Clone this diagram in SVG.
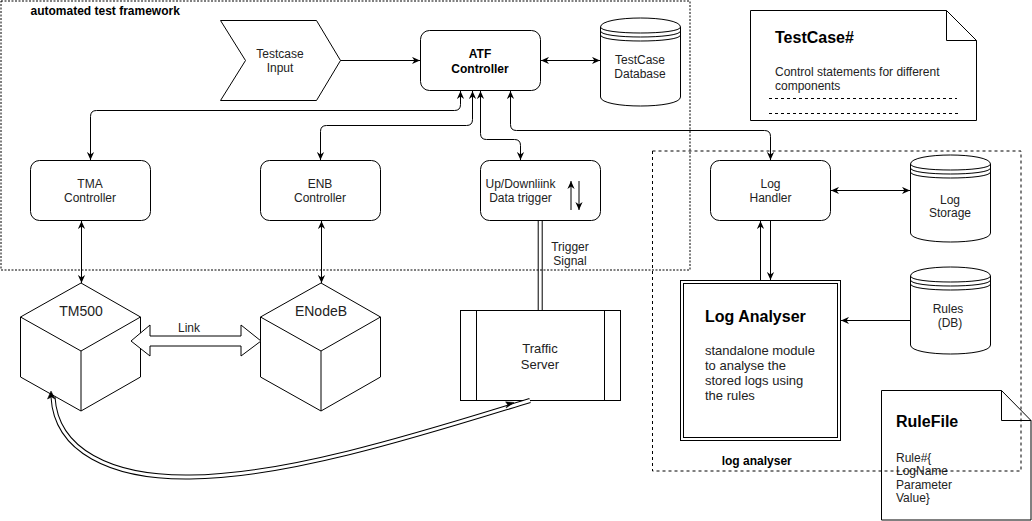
<svg xmlns="http://www.w3.org/2000/svg" width="1032" height="521" viewBox="0 0 1032 521">
<style>
.s{fill:#fff;stroke:#000;stroke-width:1}
.n{fill:none;stroke:#000;stroke-width:1}
.c{fill:none;stroke:#000;stroke-width:1;marker-end:url(#ah)}
.b{fill:none;stroke:#000;stroke-width:1;marker-start:url(#ah);marker-end:url(#ah)}
.dbo{fill:none;stroke:#000;stroke-width:5}
.dbi{fill:none;stroke:#fff;stroke-width:3}
text{font-family:"Liberation Sans",Arial,sans-serif;font-size:12px;fill:#222}
.m{text-anchor:middle}
.bd{font-weight:bold;fill:#000}
</style>
<defs>
<marker id="ah" viewBox="0 0 10 10" refX="10" refY="5" markerWidth="8" markerHeight="8" markerUnits="userSpaceOnUse" orient="auto-start-reverse">
<path d="M0,0.5 L10,5 L0,9.5 L3,5 Z" fill="#000"/>
</marker>
</defs>
<rect width="1032" height="521" fill="#fff"/>

<g id="testcase-input">
<polygon class="s" points="220.5,20.5 316.5,20.5 340.5,60.5 316.5,100.5 220.5,100.5 245.5,60.5"/>
<text class="m" x="280" y="57.5">Testcase</text>
<text class="m" x="280" y="72">Input</text>
</g>

<g id="atf-controller">
<rect class="s" x="420.5" y="30.5" width="120" height="60" rx="9"/>
<text class="m bd" x="480" y="57.5">ATF</text>
<text class="m bd" x="480" y="72.5">Controller</text>
</g>

<g id="testcase-db">
<path class="s" d="M600.5,27 C600.5,15 680.5,15 680.5,27 L680.5,97 C680.5,109 600.5,109 600.5,97 Z"/>
<path class="n" d="M600.5,27 C600.5,35 680.5,35 680.5,27 M600.5,31 C600.5,39 680.5,39 680.5,31 M600.5,35 C600.5,43 680.5,43 680.5,35"/>
<text class="m" x="640" y="64">TestCase</text>
<text class="m" x="640" y="77.5">Database</text>
</g>

<g id="testcase-note">
<polygon class="s" points="750.5,10.5 946.5,10.5 976.5,40.5 976.5,120.5 750.5,120.5"/>
<polyline class="n" points="946.5,10.5 946.5,40.5 976.5,40.5"/>
<text class="bd" x="775" y="43" style="font-size:16px">TestCase#</text>
<text x="775" y="76">Control statements for different</text>
<text x="775" y="90">components</text>
<line class="n" x1="769" y1="98.5" x2="957" y2="98.5" stroke-dasharray="3 3"/>
<line class="n" x1="769" y1="113.5" x2="959" y2="113.5" stroke-dasharray="3 3"/>
</g>

<g id="tma-controller">
<rect class="s" x="30.5" y="160.5" width="120" height="60" rx="9"/>
<text class="m" x="90" y="188.3">TMA</text>
<text class="m" x="90" y="201.8">Controller</text>
</g>

<g id="enb-controller">
<rect class="s" x="260.5" y="160.5" width="120" height="60" rx="9"/>
<text class="m" x="320" y="188.3">ENB</text>
<text class="m" x="320" y="201.8">Controller</text>
</g>

<g id="updownlink">
<rect class="s" x="480.5" y="160.5" width="120" height="60" rx="9"/>
<text class="m" x="520.5" y="187.5">Up/Downliink</text>
<text class="m" x="520.5" y="201.5">Data trigger</text>
<line class="c" x1="571" y1="210" x2="571" y2="181"/>
<line class="c" x1="579" y1="181" x2="579" y2="210"/>
</g>

<g id="log-handler">
<rect class="s" x="710.5" y="160.5" width="120" height="60" rx="9"/>
<text class="m" x="770.5" y="187.5">Log</text>
<text class="m" x="770.5" y="201.5">Handler</text>
</g>

<g id="log-storage">
<path class="s" d="M910.5,164 C910.5,152 990.5,152 990.5,164 L990.5,233 C990.5,245 910.5,245 910.5,233 Z"/>
<path class="n" d="M910.5,164 C910.5,172 990.5,172 990.5,164 M910.5,168 C910.5,176 990.5,176 990.5,168 M910.5,172 C910.5,180 990.5,180 990.5,172"/>
<text class="m" x="950" y="203.5">Log</text>
<text class="m" x="950" y="217">Storage</text>
</g>

<g id="tm500">
<polygon class="s" points="81,283 140.5,317 140.5,377 81,411 20.5,377 20.5,317"/>
<polyline class="n" points="20.5,317 81,351 140.5,317"/>
<line class="n" x1="81" y1="351" x2="81" y2="411"/>
<text class="m" x="81" y="316" style="font-size:14px">TM500</text>
</g>

<g id="enodeb">
<polygon class="s" points="321,283 380.5,317 380.5,377 321,411 260.5,377 260.5,317"/>
<polyline class="n" points="260.5,317 321,351 380.5,317"/>
<line class="n" x1="321" y1="351" x2="321" y2="411"/>
<text class="m" x="321" y="316" style="font-size:14px">ENodeB</text>
</g>

<g id="traffic-server">
<rect class="s" x="460.5" y="310.5" width="160" height="90"/>
<line class="n" x1="476.5" y1="310.5" x2="476.5" y2="400.5"/>
<line class="n" x1="604.5" y1="310.5" x2="604.5" y2="400.5"/>
<text class="m" x="540" y="352.5" style="font-size:13px">Traffic</text>
<text class="m" x="540" y="368.5" style="font-size:13px">Server</text>
</g>

<g id="log-analyser">
<rect class="s" x="680.5" y="280.5" width="160" height="160"/>
<rect class="n" x="683.5" y="283.5" width="154" height="154"/>
<text class="bd" x="705" y="321.5" style="font-size:16px">Log Analyser</text>
<text x="705" y="355" style="font-size:13px">standalone module</text>
<text x="705" y="370" style="font-size:13px">to analyse the</text>
<text x="705" y="385" style="font-size:13px">stored logs using</text>
<text x="705" y="400" style="font-size:13px">the rules</text>
</g>

<g id="rules-db">
<path class="s" d="M910.5,276 C910.5,264 990.5,264 990.5,276 L990.5,345 C990.5,357 910.5,357 910.5,345 Z"/>
<path class="n" d="M910.5,276 C910.5,284 990.5,284 990.5,276 M910.5,280 C910.5,288 990.5,288 990.5,280 M910.5,284 C910.5,292 990.5,292 990.5,284"/>
<text class="m" x="948" y="313.3">Rules</text>
<text class="m" x="950" y="327">(DB)</text>
</g>

<g id="rulefile">
<polygon class="s" points="881.5,390.5 1001.5,390.5 1031,420.5 1031,520 881.5,520"/>
<polyline class="n" points="1001.5,390.5 1001.5,420.5 1031,420.5"/>
<text class="bd" x="896" y="427.3" style="font-size:16px">RuleFile</text>
<text x="896" y="461.5">Rule#{</text>
<text x="896" y="475">LogName</text>
<text x="896" y="488.5">Parameter</text>
<text x="896" y="502">Value}</text>
</g>

<g id="connectors">
<line class="c" x1="340.5" y1="60.5" x2="420" y2="60.5"/>
<line class="b" x1="541" y1="60.5" x2="600" y2="60.5"/>
<path class="b" d="M460.5,91 L460.5,104.5 Q460.5,110.5 454.5,110.5 L96.5,110.5 Q90.5,110.5 90.5,116.5 L90.5,160"/>
<path class="b" d="M472.5,91 L472.5,119.5 Q472.5,125.5 466.5,125.5 L326.5,125.5 Q320.5,125.5 320.5,131.5 L320.5,160"/>
<path class="b" d="M480.5,91 L480.5,133.5 Q480.5,139.5 486.5,139.5 L514.5,139.5 Q520.5,139.5 520.5,145.5 L520.5,160"/>
<path class="b" d="M510.5,91 L510.5,124.5 Q510.5,130.5 516.5,130.5 L764.5,130.5 Q770.5,130.5 770.5,136.5 L770.5,160"/>
<line class="b" x1="81.5" y1="221" x2="81.5" y2="283"/>
<line class="b" x1="321.5" y1="221" x2="321.5" y2="283"/>
<line class="b" x1="831" y1="190.5" x2="910" y2="190.5"/>
<line class="c" x1="770.5" y1="221" x2="770.5" y2="280"/>
<line class="c" x1="760.5" y1="280" x2="760.5" y2="221"/>
<line class="c" x1="910" y1="320.5" x2="841" y2="320.5"/>
<g id="link-arrow">
<polygon class="s" points="131,341 150,325 150,336 241,336 241,325 261,341 241,356 241,346 150,346 150,356"/>
<text class="m" x="189" y="331.5">Link</text>
</g>
<g id="trigger-signal">
<line class="dbo" x1="540.2" y1="221" x2="540.2" y2="310"/>
<line class="dbi" x1="540.2" y1="221" x2="540.2" y2="310"/>
<text class="m" x="570" y="251">Trigger</text>
<text class="m" x="570" y="264.5">Signal</text>
</g>
<g id="tm500-traffic">
<path class="dbo" d="M53,397 C56,450 110,478 190,477 C290,477 440,428 530,400.5"/>
<path class="dbi" d="M53,397 C56,450 110,478 190,477 C290,477 440,428 530,400.5"/>
<path d="M51,391 L55,399 L51.5,397 L47.5,399 Z" fill="#000" stroke="#000" stroke-width="0.5"/>
<path d="M514,402.5 L506,408 L507.7,404.8 L505.6,401.8 Z" fill="#000" stroke="#000" stroke-width="0.5"/>
</g>
</g>

<g id="frame-atf">
<rect class="n" x="1" y="1" width="689" height="269" stroke-dasharray="2 1.5"/>
<text class="bd" x="30.5" y="15">automated test framework</text>
</g>
<g id="frame-log-analyser">
<rect class="n" x="652.5" y="151" width="368.5" height="320" stroke-dasharray="3 3"/>
<text class="bd" x="721.7" y="465">log analyser</text>
</g>
</svg>
